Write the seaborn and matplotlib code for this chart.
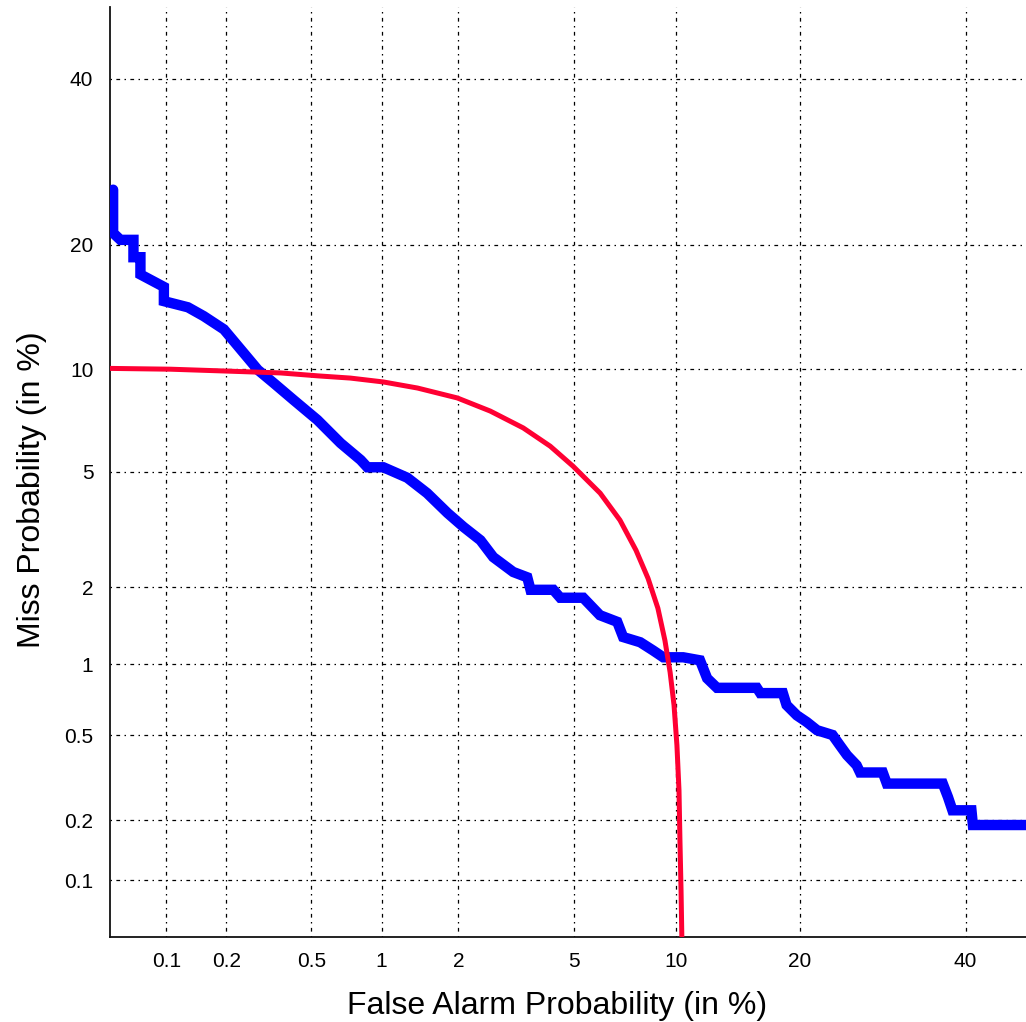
import math
import numpy as np
import matplotlib
matplotlib.use("Agg")
import matplotlib.pyplot as plt
import seaborn as sns

# DET curves, values in percent (false alarm, miss)
blue_fa = [0.052, 0.052, 0.057, 0.067, 0.067, 0.073, 0.073, 0.097, 0.097, 0.129,
           0.155, 0.195, 0.284, 0.336, 0.415, 0.532, 0.672, 0.818, 0.873, 1.017,
           1.27, 1.52, 1.82, 2.09, 2.41, 2.68, 3.15, 3.52, 3.61, 4.30,
           4.53, 5.36, 6.04, 6.81, 7.09, 7.95, 8.65, 9.23, 10.46, 11.58,
           12.08, 12.8, 16.0, 16.3, 18.35, 18.7, 19.7, 20.7, 21.75, 23.4,
           24.2, 25.0, 26.1, 26.5, 29.2, 29.7, 36.9, 37.6, 38.2, 40.8,
           41.0, 50.0]
blue_miss = [25.9, 21.2, 20.5, 20.5, 18.8, 18.8, 17.2, 16.1, 14.9, 14.4,
             13.7, 12.7, 9.96, 9.18, 8.23, 7.2, 6.14, 5.45, 5.17, 5.17,
             4.79, 4.27, 3.67, 3.29, 2.96, 2.58, 2.28, 2.18, 1.96, 1.96,
             1.83, 1.83, 1.57, 1.48, 1.29, 1.23, 1.14, 1.07, 1.07, 1.04,
             0.877, 0.80, 0.80, 0.76, 0.76, 0.676, 0.61, 0.57, 0.525, 0.50,
             0.45, 0.406, 0.365, 0.338, 0.338, 0.30, 0.30, 0.259, 0.224, 0.224,
             0.19, 0.19]

red_fa = [0.05, 0.105, 0.206, 0.363, 0.538, 0.740, 1.017, 1.394, 1.98, 2.615,
          3.41, 4.20, 4.98, 6.05, 6.94, 7.73, 8.37, 8.92, 9.33, 9.64,
          9.88, 10.06, 10.19, 10.25, 10.32, 10.38]
red_miss = [10.05, 10.0, 9.88, 9.77, 9.59, 9.46, 9.23, 8.88, 8.33, 7.64,
            6.82, 6.01, 5.21, 4.27, 3.47, 2.73, 2.16, 1.67, 1.25, 0.929,
            0.675, 0.450, 0.279, 0.160, 0.0887, 0.045]

tick_values = [0.1, 0.2, 0.5, 1, 2, 5, 10, 20, 40]
tick_labels = ["0.1", "0.2", "0.5", "1", "2", "5", "10", "20", "40"]
axis_range = (0.05, 50)

_erf = np.vectorize(math.erf, otypes=[float])

A = [-3.969683028665376e+01, 2.209460984245205e+02, -2.759285104469687e+02,
     1.383577518672690e+02, -3.066479806614716e+01, 2.506628277459239e+00]
B = [-5.447609879822406e+01, 1.615858368580409e+02, -1.556989798598866e+02,
     6.680131188771972e+01, -1.328068155288572e+01]
C = [-7.784894002430293e-03, -3.223964580411365e-01, -2.400758277161838e+00,
     -2.549732539343734e+00, 4.374664141464968e+00, 2.938163982698783e+00]
D = [7.784695709041462e-03, 3.224671290700398e-01, 2.445134137142996e+00,
     3.754408661907416e+00]


def _tail(q):
    num = ((((C[0] * q + C[1]) * q + C[2]) * q + C[3]) * q + C[4]) * q + C[5]
    den = (((D[0] * q + D[1]) * q + D[2]) * q + D[3]) * q + 1
    return num / den


def probit(pct):
    """percent -> normal deviate (Acklam approximation)"""
    p = np.clip(np.asarray(pct, dtype=float) / 100.0, 1e-12, 1 - 1e-12)
    out = np.empty_like(p)
    lo = p < 0.02425
    hi = p > 1 - 0.02425
    mid = ~(lo | hi)
    out[lo] = _tail(np.sqrt(-2 * np.log(p[lo])))
    out[hi] = -_tail(np.sqrt(-2 * np.log(1 - p[hi])))
    q = p[mid] - 0.5
    r = q * q
    num = (((((A[0] * r + A[1]) * r + A[2]) * r + A[3]) * r + A[4]) * r + A[5]) * q
    den = ((((B[0] * r + B[1]) * r + B[2]) * r + B[3]) * r + B[4]) * r + 1
    out[mid] = num / den
    return out


def inv_probit(z):
    z = np.asarray(z, dtype=float)
    return 50.0 * (1.0 + _erf(z / math.sqrt(2)))


sns.set_style("white")
plt.rcParams["font.family"] = ["Liberation Sans", "DejaVu Sans"]
plt.rcParams["axes.labelcolor"] = "black"

fig = plt.figure(figsize=(10.26, 10.22), dpi=100)
ax = fig.add_axes([110 / 1026, 85 / 1022, 927 / 1026, 930 / 1022])
ax.set_xscale("function", functions=(probit, inv_probit))
ax.set_yscale("function", functions=(probit, inv_probit))
ax.set_xlim(*axis_range)
ax.set_ylim(*axis_range)

sns.lineplot(x=blue_fa, y=blue_miss, ax=ax, sort=False, estimator=None,
             color="#0000ff", linewidth=7.5, solid_joinstyle="miter", zorder=3)
sns.lineplot(x=red_fa, y=red_miss, ax=ax, sort=False, estimator=None,
             color="#ff0033", linewidth=3.6, zorder=4)

ax.set_xticks(tick_values, labels=tick_labels)
ax.set_yticks(tick_values, labels=tick_labels)
ax.minorticks_off()
ax.tick_params(direction="in", length=10, width=1.2, labelsize=15,
               colors="black")
ax.tick_params(axis="x", pad=11)
ax.tick_params(axis="y", pad=12)

ax.grid(True, color="black", linewidth=0.9, linestyle=(0, (1.2, 3.5, 3, 3.5)))
ax.set_axisbelow(True)
for side in ["top", "right"]:
    ax.spines[side].set_visible(False)
for side in ["left", "bottom"]:
    ax.spines[side].set_color("#111111")
    ax.spines[side].set_linewidth(1.3)

ax.set_xlabel("False Alarm Probability (in %)", fontsize=23, color="black")
ax.set_ylabel("Miss Probability (in %)", fontsize=23, color="black")
ax.xaxis.set_label_coords(0.482, -0.058)
ax.yaxis.set_label_coords(-0.068, 0.481)

fig.savefig("out.png", dpi=100)
